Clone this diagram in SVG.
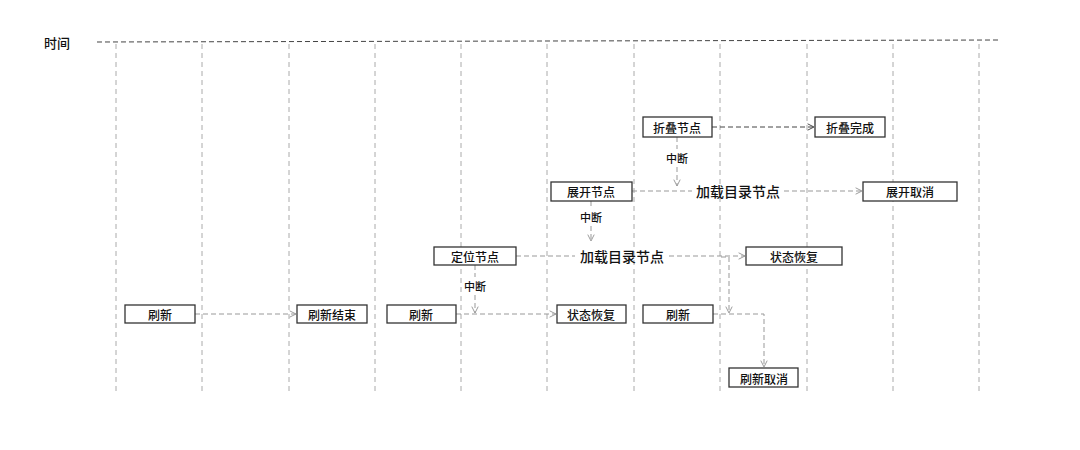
<svg xmlns="http://www.w3.org/2000/svg" width="1080" height="450" viewBox="0 0 1080 450">
<style>
text{font-family:"Noto Sans CJK SC","Noto Sans",sans-serif;fill:#111;font-weight:500;text-anchor:middle;dominant-baseline:central}
.box{fill:#fff;stroke:#333;stroke-width:1.3}
.lbl{font-size:12px}
.sm{font-size:11px}
.big{font-size:14px}
.grid{stroke:#aaa;stroke-width:1;stroke-dasharray:5,4;fill:none}
.c{stroke:#999;stroke-width:1;stroke-dasharray:5,3;fill:none}
.cd{stroke:#444;stroke-width:1;stroke-dasharray:5,3;fill:none}
</style>
<defs>
<marker id="a" viewBox="0 0 10 10" refX="9" refY="5" markerWidth="8" markerHeight="8" orient="auto" markerUnits="userSpaceOnUse"><path d="M1 1L9 5L1 9" fill="none" stroke="#999" stroke-width="1.2"/></marker>
<marker id="ad" viewBox="0 0 10 10" refX="9" refY="5" markerWidth="8" markerHeight="8" orient="auto" markerUnits="userSpaceOnUse"><path d="M1 1L9 5L1 9" fill="none" stroke="#444" stroke-width="1.2"/></marker>
</defs>
<rect width="1080" height="450" fill="#fff"/>
<g id="timeline">
<text x="57" y="42" style="font-size:13px">时间</text>
<line x1="97" y1="42" x2="1000" y2="40" stroke="#444" stroke-dasharray="5,3"/>
<line class="grid" x1="116" y1="44" x2="116" y2="393"/>
<line class="grid" x1="202" y1="44" x2="202" y2="393"/>
<line class="grid" x1="289" y1="44" x2="289" y2="393"/>
<line class="grid" x1="375" y1="44" x2="375" y2="393"/>
<line class="grid" x1="461" y1="44" x2="461" y2="393"/>
<line class="grid" x1="547" y1="44" x2="547" y2="393"/>
<line class="grid" x1="634" y1="44" x2="634" y2="393"/>
<line class="grid" x1="720" y1="44" x2="720" y2="393"/>
<line class="grid" x1="807" y1="44" x2="807" y2="393"/>
<line class="grid" x1="893" y1="44" x2="893" y2="393"/>
<line class="grid" x1="979" y1="44" x2="979" y2="393"/>
</g>
<g id="connectors">
<line class="c" x1="195" y1="314" x2="296" y2="314" marker-end="url(#a)"/>
<line class="c" x1="456" y1="314" x2="556" y2="314" marker-end="url(#a)"/>
<path class="c" d="M516 256H575M669 256H745" marker-end="url(#a)"/>
<path class="c" d="M632 191H692M784 191H862" marker-end="url(#a)"/>
<line class="cd" x1="712" y1="127" x2="814" y2="127" marker-end="url(#ad)"/>
<path class="c" d="M475 265V277M475 295V313" marker-end="url(#a)"/>
<path class="c" d="M591 201V208M591 226V241" marker-end="url(#a)"/>
<path class="c" d="M677 137V149M677 167V186" marker-end="url(#a)"/>
<path class="c" d="M721 257H729V313" marker-end="url(#a)"/>
<path class="c" d="M713 314H764V367" marker-end="url(#a)"/>
</g>
<g id="labels">
<text class="sm" x="475" y="286">中断</text>
<text class="sm" x="591" y="217">中断</text>
<text class="sm" x="677" y="158">中断</text>
<text class="big" x="622" y="256">加载目录节点</text>
<text class="big" x="738" y="191">加载目录节点</text>
</g>
<g id="n1"><rect class="box" x="125" y="305" width="70" height="18"/><text class="lbl" x="160" y="314">刷新</text></g>
<g id="n2"><rect class="box" x="297" y="305" width="70" height="18"/><text class="lbl" x="332" y="314">刷新结束</text></g>
<g id="n3"><rect class="box" x="387" y="305" width="69" height="18"/><text class="lbl" x="421" y="314">刷新</text></g>
<g id="n4"><rect class="box" x="557" y="305" width="69" height="18"/><text class="lbl" x="591" y="314">状态恢复</text></g>
<g id="n5"><rect class="box" x="643" y="305" width="70" height="18"/><text class="lbl" x="678" y="314">刷新</text></g>
<g id="n6"><rect class="box" x="729" y="368" width="69" height="19"/><text class="lbl" x="764" y="378">刷新取消</text></g>
<g id="n7"><rect class="box" x="434" y="247" width="82" height="18"/><text class="lbl" x="475" y="256">定位节点</text></g>
<g id="n8"><rect class="box" x="746" y="247" width="96" height="18"/><text class="lbl" x="794" y="256">状态恢复</text></g>
<g id="n9"><rect class="box" x="551" y="182" width="81" height="19"/><text class="lbl" x="591" y="191">展开节点</text></g>
<g id="n10"><rect class="box" x="863" y="182" width="94" height="19"/><text class="lbl" x="910" y="191">展开取消</text></g>
<g id="n11"><rect class="box" x="643" y="117" width="69" height="20"/><text class="lbl" x="677" y="127">折叠节点</text></g>
<g id="n12"><rect class="box" x="815" y="117" width="70" height="20"/><text class="lbl" x="850" y="127">折叠完成</text></g>
</svg>
